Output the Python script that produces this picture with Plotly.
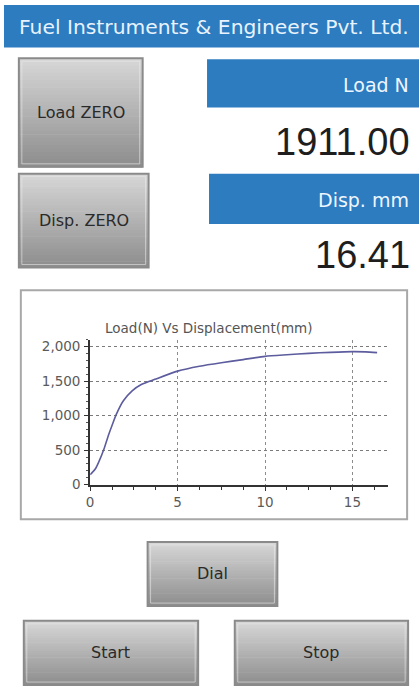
import plotly.graph_objects as go

W, H = 419, 694

# ---- data ----
displacement_mm = [0, 0.3, 0.5, 0.8, 1.05, 1.25, 1.5, 1.9, 2.4, 2.95, 3.7, 5.0, 6.25, 7.5, 8.75, 10.0, 11.25, 12.5, 13.75, 15.0, 15.75, 16.41]
load_n = [143, 230, 333, 524, 720, 857, 1020, 1214, 1357, 1452, 1524, 1643, 1714, 1765, 1810, 1857, 1880, 1900, 1915, 1925, 1922, 1911]
load_value = "1911.00"
disp_value = "16.41"
y_ticks = [0, 500, 1000, 1500, 2000]
x_ticks = [0, 5, 10, 15]

FONT = "DejaVu Sans"


def X(px):
    return px / W


def Y(py):
    return 1 - py / H


shapes = []
annotations = []


def rect(x0, y0, x1, y1, fill, line=None, lw=0, layer="below"):
    shapes.append(dict(type="rect", xref="paper", yref="paper",
                       x0=X(x0), x1=X(x1), y0=Y(y1), y1=Y(y0),
                       fillcolor=fill, line=dict(color=line or fill, width=lw),
                       layer=layer))


def text(x, y, s, size, color, xanchor="center", family=FONT):
    annotations.append(dict(xref="paper", yref="paper", x=X(x), y=Y(y), text=s,
                            showarrow=False, xanchor=xanchor, yanchor="middle",
                            borderpad=0, font=dict(family=family, size=size, color=color)))


def lerp(c1, c2, t):
    return "rgb(%d,%d,%d)" % tuple(round(a + (b - a) * t) for a, b in zip(c1, c2))


def button(x0, y0, x1, y1, label):
    top, bot = (214, 214, 214), (142, 142, 142)
    n = 30
    h = (y1 - y0) / n
    for i in range(n):
        c = lerp(top, bot, i / (n - 1))
        rect(x0, y0 + i * h, x1, y0 + (i + 1) * h + 0.6, c)
    shapes.append(dict(type="rect", xref="paper", yref="paper", x0=X(x0), x1=X(x1),
                       y0=Y(y1), y1=Y(y0), line=dict(color="#8a8a8a", width=2),
                       fillcolor="rgba(0,0,0,0)", layer="below"))
    shapes.append(dict(type="rect", xref="paper", yref="paper", x0=X(x0 + 3), x1=X(x1 - 3),
                       y0=Y(y1 - 3), y1=Y(y0 + 3), line=dict(color="rgba(235,235,235,0.6)", width=1),
                       fillcolor="rgba(0,0,0,0)", layer="below"))
    text((x0 + x1) / 2, (y0 + y1) / 2, label, 16, "#2a2a2a")


BLUE = "#2c7cbf"
# header
rect(0, 4, W, 47, BLUE)
text(14, 26, "Fuel Instruments &amp; Engineers Pvt. Ltd.", 20.3, "#e8f3ff", xanchor="left")

# buttons
button(15, 58, 140, 168, "Load ZERO")
button(15, 175, 146, 270, "Disp. ZERO")
button(145, 548, 276, 613, "Dial")
button(20, 628, 196, 693, "Start")
button(233, 628, 408, 693, "Stop")

# value headers
rect(205, 59, W, 108, BLUE)
text(410, 85, "Load N", 19, "#eef6ff", xanchor="right")
text(411, 143, load_value, 38, "#1e1e1e", xanchor="right", family="Liberation Sans")
rect(207, 175, W, 226, BLUE)
text(410, 202, "Disp. mm", 19, "#eef6ff", xanchor="right")
text(411, 257, disp_value, 38, "#1e1e1e", xanchor="right", family="Liberation Sans")

# chart panel
shapes.append(dict(type="rect", xref="paper", yref="paper", x0=X(17), x1=X(407),
                   y0=Y(525), y1=Y(293), line=dict(color="#a8a8a8", width=2),
                   fillcolor="white", layer="below"))
text(207, 331, "Load(N) Vs Displacement(mm)", 13.5, "#555555")

fig = go.Figure()
fig.add_trace(go.Scatter(x=displacement_mm, y=load_n, mode="lines",
                         line=dict(color="#5c5c9e", width=1.6, shape="spline", smoothing=0.6),
                         hoverinfo="skip"))

axis_font = dict(family=FONT, size=13.5, color="#5a5a5a")
fig.update_layout(
    width=W, height=H, margin=dict(l=0, r=0, t=0, b=0),
    paper_bgcolor="white", plot_bgcolor="rgba(0,0,0,0)",
    showlegend=False, shapes=shapes, annotations=annotations,
    xaxis=dict(domain=[X(87), X(388)], range=[0, 17.05], tickvals=x_ticks,
               showgrid=True, gridcolor="#8c8c8c", griddash="dot", gridwidth=1,
               showline=True, linecolor="#333333", linewidth=2,
               ticks="outside", ticklen=4, tickcolor="#333333", tickwidth=1,
               minor=dict(dtick=1.25, ticks="outside", ticklen=3, tickcolor="#333333", showgrid=False),
               tickfont=axis_font, zeroline=False, fixedrange=True),
    yaxis=dict(domain=[Y(490), Y(343)], range=[0, 2100], tickvals=y_ticks,
               tickformat=",d",
               showgrid=True, gridcolor="#7a7a7a", griddash="dot", gridwidth=1,
               showline=True, linecolor="#333333", linewidth=2,
               ticks="outside", ticklen=4, tickcolor="#333333", tickwidth=1,
               minor=dict(dtick=100, ticks="outside", ticklen=2, tickcolor="#555555", showgrid=False),
               tickfont=axis_font, zeroline=False, fixedrange=True, ticklabelstandoff=1),
)

fig.write_html("out.html", config={"displayModeBar": False},
               post_script="document.body.style.margin='0';document.body.style.overflow='hidden';")
